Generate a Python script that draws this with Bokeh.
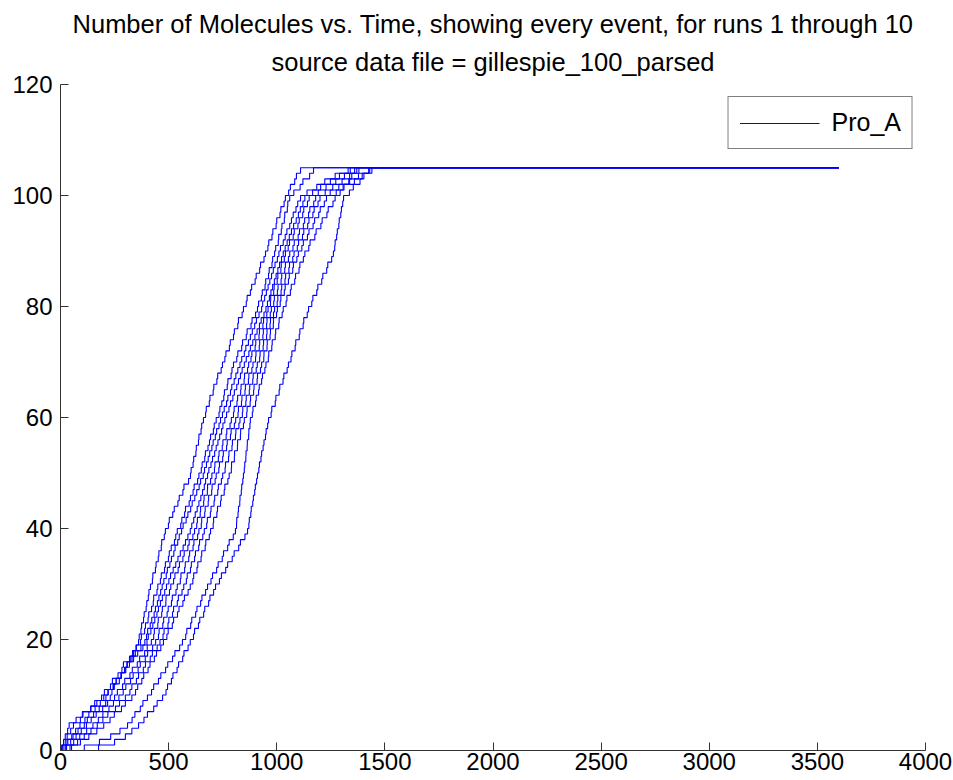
from bokeh.plotting import figure
from bokeh.models import Range1d, FixedTicker, Title, Legend, LegendItem
from bokeh.embed import file_html
from bokeh.resources import INLINE

title_line1 = "Number of Molecules vs. Time, showing every event, for runs 1 through 10"
title_line2 = "source data file = gillespie_100_parsed"
species = "Pro_A"
end_time = 3600
x_ticks = [0, 500, 1000, 1500, 2000, 2500, 3000, 3500, 4000]
y_ticks = [0, 20, 40, 60, 80, 100, 120]

# event times (time at which the molecule count becomes 1, 2, 3, ... 105)
run1 = [12,30,58,81,110, 124,153,179,209,230, 238,249,272,281,299,307,325,333,351,361,
        364,372,375,384,387,396,399,406,409,416, 425,427,439,442,452,455,466,468,480,485,
        499,503,519,526,543,549,566,571,592,601, 604,613,616,626,628,638,640,650,653,661,
        671,674,688,691,706,709,723,727,743,749, 760,765,781,785,800,804,820,823,840,846,
        859,863,878,884,900,905,921,925,941,948, 959,963,978,982,997,1000,1015,1019,1034,1040,
        1055,1063,1083,1091,1110]
run2 = [8,22,31,47,60, 92,104,141,158,190, 203,231,240,266,284,291,319,338,349,370,
        374,389,393,405,408,421,429,431,446,450, 462,466,481,485,499,503,512,527,533,540,
        556,561,574,578,595,601,613,618,634,640, 651,655,667,670,682,689,694,707,711,720,
        733,737,746,755,758,771,774,789,793,800, 815,820,838,842,859,863,881,886,902,911,
        916,929,933,946,949,962,965,978,981,990, 995,1007,1009,1021,1024,1035,1037,1049,1051,1060,
        1079,1108,1121,1152,1170]
run3 = [21,34,52,70,90, 113,131,160,184,210, 221,245,257,280,296,309,331,346,372,390,
        398,403,415,422,433,439,448,455,463,470, 478,489,494,506,513,524,530,542,549,560,
        567,581,589,602,609,621,630,641,648,660, 666,675,683,690,700,706,716,722,733,740,
        749,757,768,774,786,792,803,811,820,830, 838,850,857,869,878,887,898,906,918,930,
        935,944,952,960,968,976,984,992,1003,1010, 1017,1030,1039,1047,1060,1068,1076,1089,1097,1110,
        1140,1185,1222,1270,1330]
run4 = [5,14,22,33,40, 72,101,139,168,200, 219,243,258,281,302,319,338,357,381,400,
        406,418,427,436,446,453,462,471,482,490, 501,509,521,533,543,554,567,578,589,600,
        607,616,623,632,640,649,657,665,671,680, 686,696,703,713,720,728,736,745,751,760,
        768,779,786,797,804,815,823,832,840,850, 859,871,878,889,899,909,920,928,941,950,
        957,966,973,981,989,997,1005,1013,1022,1030, 1039,1048,1058,1068,1078,1090,1100,1109,1121,1130,
        1166,1203,1248,1290,1340]
run5 = [25,47,72,96,120, 142,165,195,218,250, 263,287,297,321,332,355,366,389,401,420,
        431,434,450,452,468,471,487,488,504,510, 523,529,544,550,566,572,589,595,612,620,
        630,633,646,648,662,664,679,680,694,700, 712,714,730,733,748,751,766,769,784,790,
        800,803,816,819,833,835,849,851,865,870, 881,885,900,903,918,920,936,939,954,960,
        971,972,986,988,1002,1005,1019,1021,1035,1040, 1053,1059,1076,1081,1098,1104,1120,1125,1142,1150,
        1192,1228,1273,1313,1360]
run6 = [28,61,89,121,150, 175,196,224,245,270, 290,302,324,336,359,369,392,403,426,440,
        453,456,473,477,493,498,513,517,534,540, 554,557,574,577,593,597,613,617,634,640,
        651,653,667,669,683,685,699,701,715,720, 732,735,750,753,768,771,786,789,804,810,
        821,823,837,839,853,855,869,871,885,890, 902,904,919,921,936,938,953,955,970,975,
        986,989,1003,1006,1020,1023,1037,1040,1054,1060, 1075,1081,1099,1105,1123,1129,1147,1153,1171,1180,
        1224,1259,1302,1337,1380]
run7 = [44,79,110,141,170, 196,219,254,273,300, 321,330,351,361,383,393,415,425,447,460,
        474,479,497,501,518,523,540,545,562,570, 582,586,601,605,620,624,639,643,658,665,
        676,679,693,696,710,713,727,730,744,750, 761,763,777,779,793,795,809,811,825,830,
        841,843,857,859,873,875,889,891,905,910, 921,923,937,939,953,955,969,971,985,990,
        1002,1005,1020,1023,1038,1041,1056,1059,1074,1080, 1095,1101,1119,1125,1143,1149,1167,1173,1191,1200,
        1247,1287,1337,1378,1425]
run8 = [51,92,131,168,200, 229,249,282,300,330, 347,357,376,385,405,414,434,444,464,476,
        492,498,517,523,541,548,566,573,590,600, 612,616,631,635,650,653,669,672,688,694,
        706,708,723,726,740,743,757,760,774,780, 790,791,804,805,818,819,832,833,846,850,
        861,863,877,879,893,895,909,911,925,930, 940,941,955,956,969,971,984,985,999,1003,
        1016,1019,1035,1039,1054,1058,1074,1077,1093,1100, 1116,1123,1142,1149,1168,1175,1194,1201,1220,1230,
        1275,1311,1359,1395,1440]
run9 = [110,180,232,275,310, 331,344,369,381,402, 421,431,453,464,486,496,518,529,551,564,
        579,584,602,607,625,631,648,654,671,680, 696,703,722,729,748,754,773,780,799,809,
        814,815,821,823,829,830,836,838,843,846, 850,852,857,858,863,864,870,871,876,878,
        887,890,902,905,916,919,930,934,945,950, 961,963,977,979,993,995,1009,1011,1025,1030,
        1043,1047,1063,1067,1083,1087,1103,1107,1123,1130, 1148,1154,1176,1182,1204,1210,1232,1238,1260,1270,
        1293,1307,1333,1347,1370]
run10 = [176,250,300,330,361, 386,402,431,447,472, 488,495,513,520,539,546,565,571,590,600,
         615,620,638,644,662,667,685,691,708,717, 735,744,764,773,794,803,824,832,853,865,
         871,873,880,882,889,892,898,901,907,911, 917,920,927,930,937,941,948,951,958,962,
         974,977,993,996,1011,1014,1029,1033,1048,1054, 1066,1070,1085,1088,1104,1107,1122,1125,1141,1147,
         1162,1167,1185,1190,1208,1213,1231,1236,1254,1262, 1268,1270,1277,1280,1287,1289,1296,1299,1305,1309,
         1336,1354,1385,1403,1430]
runs = [run1, run2, run3, run4, run5, run6, run7, run8, run9, run10]

FONT = "Liberation Sans"

p = figure(width=953, height=780,
           x_range=Range1d(0, 4000), y_range=Range1d(0, 120),
           output_backend="svg", toolbar_location=None,
           min_border_left=60, min_border_right=28,
           min_border_top=84, min_border_bottom=30)
p.outline_line_color = None
p.grid.visible = False
p.background_fill_color = "white"
p.border_fill_color = "white"

renderers = []
for t in runs:
    xs = [0] + list(t) + [end_time]
    ys = list(range(0, len(t) + 1)) + [len(t)]
    r = p.step(xs, ys, mode="after", line_color="#0000ff", line_width=1.1)
    renderers.append(r)

for ax, ticks in ((p.xaxis, x_ticks), (p.yaxis, y_ticks)):
    ax.ticker = FixedTicker(ticks=ticks)
    ax.major_tick_in = 8
    ax.major_tick_out = 0
    ax.minor_tick_line_color = None
    ax.axis_line_color = "#333333"
    ax.major_tick_line_color = "#333333"
    ax.major_label_text_font = FONT
    ax.major_label_text_font_size = "24px"
    ax.major_label_text_color = "black"
p.yaxis.major_label_standoff = 8
p.xaxis.major_label_standoff = 2

# second line first: the panel added first sits closest to the plot
p.add_layout(Title(text=title_line2, align="center",
                   text_font=FONT, text_font_size="25.5px", text_color="black",
                   text_font_style="normal", standoff=17), "above")
p.add_layout(Title(text=title_line1, align="center",
                   text_font=FONT, text_font_size="25.5px", text_color="black",
                   text_font_style="normal", standoff=0), "above")

legend = Legend(items=[LegendItem(label=species, renderers=[renderers[0]])],
                location="top_right", margin=12, padding=11,
                glyph_width=80, glyph_height=20, label_height=20,
                label_standoff=12, label_text_font=FONT,
                label_text_font_size="25px", label_text_color="black",
                border_line_color="black", border_line_width=1.5,
                background_fill_color="white", background_fill_alpha=1.0)
p.add_layout(legend)

open("out.html", "w").write(file_html(p, INLINE))
